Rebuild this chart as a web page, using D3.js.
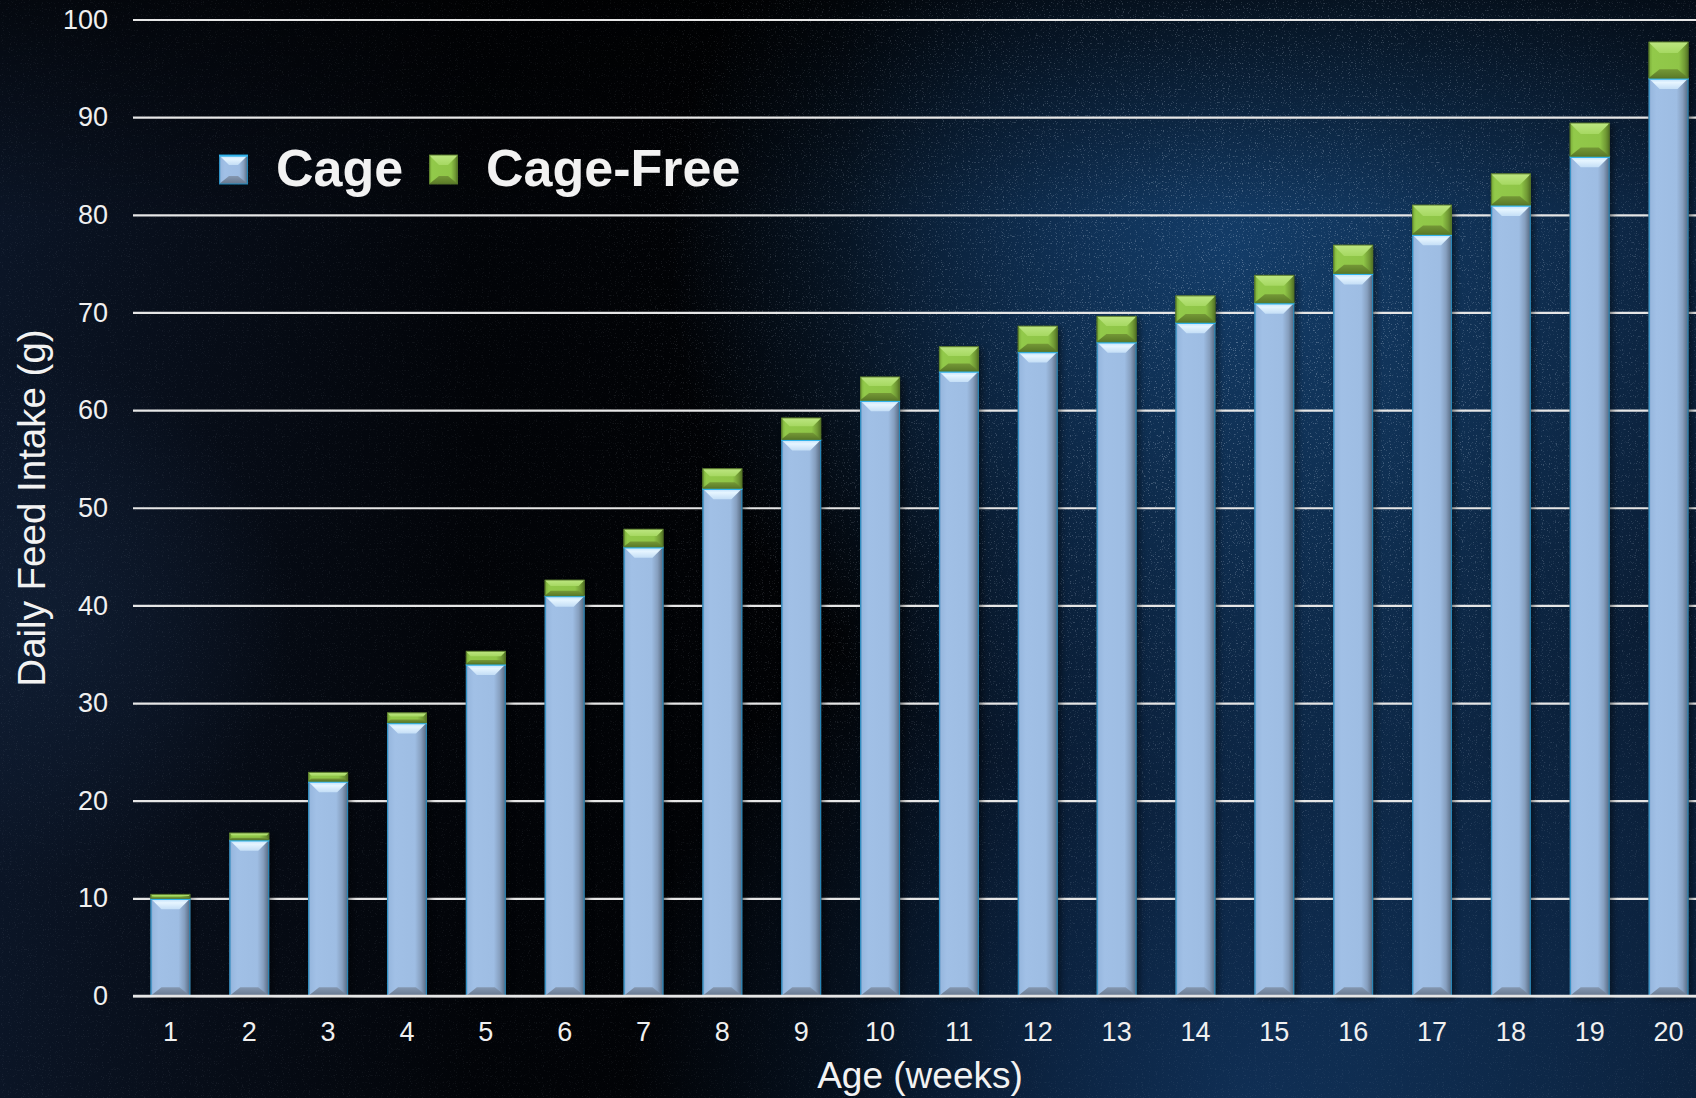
<!DOCTYPE html>
<html>
<head>
<meta charset="utf-8">
<script src="https://cdn.jsdelivr.net/npm/d3@7"></script>
<style>
  html, body { margin: 0; padding: 0; background: #04070d; overflow: hidden; }
  svg { display: block; }
  text { font-family: "Liberation Sans", Arial, sans-serif; fill: #f2f2f2; }
</style>
</head>
<body>
<svg id="chart" width="1696" height="1098"></svg>
<script>
// ---- data ----
const weeks = ["1","2","3","4","5","6","7","8","9","10","11","12","13","14","15","16","17","18","19","20"];
const cage = [10, 16, 22, 28, 34, 41, 46, 52, 57, 61, 64, 66, 67, 69, 71, 74, 78, 81, 86, 94];
const cageFreeExtra = [0.4, 0.7, 0.9, 1.0, 1.3, 1.6, 1.8, 2.0, 2.2, 2.4, 2.5, 2.6, 2.6, 2.7, 2.8, 2.9, 3.0, 3.2, 3.4, 3.7];
const seriesNames = ["Cage", "Cage-Free"];
const yTicks = [0, 10, 20, 30, 40, 50, 60, 70, 80, 90, 100];

const W = 1696, H = 1098;
const svg = d3.select("#chart");
const defs = svg.append("defs");

// ---- background ----
function radial(id, cx, cy, r, color, op) {
  const g = defs.append("radialGradient").attr("id", id).attr("gradientUnits", "userSpaceOnUse")
    .attr("cx", cx).attr("cy", cy).attr("r", r);
  g.append("stop").attr("offset", 0).attr("stop-color", color).attr("stop-opacity", op);
  g.append("stop").attr("offset", 0.55).attr("stop-color", color).attr("stop-opacity", op * 0.5);
  g.append("stop").attr("offset", 1).attr("stop-color", color).attr("stop-opacity", 0);
}
const bgLin = defs.append("linearGradient").attr("id", "bgLin").attr("x1", 0).attr("x2", 1).attr("y1", 0).attr("y2", 0);
[[0, "#0b1526"], [0.12, "#070d18"], [0.28, "#020408"], [0.5, "#010204"], [0.62, "#05101f"], [0.8, "#0a2038"], [1, "#0a1c33"]]
  .forEach(([o, c]) => bgLin.append("stop").attr("offset", o).attr("stop-color", c));
radial("bgRad", 1230, 250, 560, "#154272", 0.85);
radial("bgRad2", 1250, 1098, 620, "#123560", 0.75);
radial("bgRad3", 30, 620, 260, "#13233b", 0.6);
const bgTop = defs.append("linearGradient").attr("id", "bgTop").attr("x1", 0).attr("x2", 0).attr("y1", 0).attr("y2", 1);
bgTop.append("stop").attr("offset", 0).attr("stop-color", "#000").attr("stop-opacity", 0.6);
bgTop.append("stop").attr("offset", 0.2).attr("stop-color", "#000").attr("stop-opacity", 0);

const starF = defs.append("filter").attr("id", "stars").attr("x", 0).attr("y", 0).attr("width", 1).attr("height", 1);
starF.append("feTurbulence").attr("type", "fractalNoise").attr("baseFrequency", 0.85).attr("numOctaves", 1).attr("seed", 7).attr("result", "n");
starF.append("feColorMatrix").attr("in", "n").attr("type", "matrix")
  .attr("values", "0 0 0 0 0.8  0 0 0 0 0.88  0 0 0 0 1  9 0 0 0 -5.5");

const starMask = defs.append("mask").attr("id", "starMask");
starMask.append("rect").attr("width", W).attr("height", H).attr("fill", "#333");
defs.append("radialGradient").attr("id", "maskRad").attr("gradientUnits", "userSpaceOnUse")
  .attr("cx", 1250).attr("cy", 350).attr("r", 700)
  .call(g => { g.append("stop").attr("offset", 0).attr("stop-color", "#fff"); g.append("stop").attr("offset", 1).attr("stop-color", "#fff").attr("stop-opacity", 0); });
starMask.append("rect").attr("width", W).attr("height", H).attr("fill", "url(#maskRad)");

svg.append("rect").attr("width", W).attr("height", H).attr("fill", "url(#bgLin)");
svg.append("rect").attr("width", W).attr("height", H).attr("fill", "url(#bgRad)");
svg.append("rect").attr("width", W).attr("height", H).attr("fill", "url(#bgRad2)");
svg.append("rect").attr("width", W).attr("height", H).attr("fill", "url(#bgRad3)");
svg.append("rect").attr("width", W).attr("height", H).attr("fill", "url(#bgTop)");
svg.append("rect").attr("width", W).attr("height", H).attr("filter", "url(#stars)").attr("opacity", 0.3).attr("mask", "url(#starMask)");

// ---- scales ----
const x = d3.scaleBand().domain(weeks).range([131, 1708]).paddingInner(0.493).paddingOuter(0.2465);
const y = d3.scaleLinear().domain([0, 100]).range([996, 19.5]);

// ---- gridlines + y axis ----
const yAxis = svg.append("g").attr("transform", "translate(133,0)")
  .call(d3.axisLeft(y).tickValues(yTicks).tickSize(-(W - 133 + 20)).tickPadding(25).tickFormat(d3.format("d")));
yAxis.select(".domain").remove();
yAxis.selectAll(".tick line").attr("stroke", "#e6e6e6").attr("stroke-width", 2.2);
yAxis.selectAll(".tick text").attr("font-size", 27).style("fill", "#f0f0f0").attr("fill", null);

// ---- bar gradients ----
function hGrad(id, stops) {
  const g = defs.append("linearGradient").attr("id", id).attr("x1", 0).attr("x2", 1).attr("y1", 0).attr("y2", 0);
  stops.forEach(([o, c]) => g.append("stop").attr("offset", o).attr("stop-color", c));
}
function vGrad(id, stops) {
  const g = defs.append("linearGradient").attr("id", id).attr("x1", 0).attr("x2", 0).attr("y1", 0).attr("y2", 1);
  stops.forEach(([o, c]) => g.append("stop").attr("offset", o).attr("stop-color", c));
}
hGrad("blueBody", [[0, "#6f93be"], [0.06, "#98b8df"], [0.2, "#a1c0e6"], [0.7, "#9ebde3"], [0.85, "#869fbf"], [1, "#53647b"]]);
vGrad("blueTop", [[0, "#b9dcfa"], [0.4, "#e6f5ff"], [1, "#c4def6"]]);
vGrad("blueBot", [[0, "#8598b1"], [1, "#66778e"]]);
hGrad("greenBody", [[0, "#78aa36"], [0.1, "#92c94a"], [0.76, "#8fc547"], [0.9, "#719a35"], [1, "#506f22"]]);
vGrad("greenTop", [[0, "#bde681"], [1, "#a6d862"]]);
vGrad("greenBot", [[0, "#749836"], [1, "#5b7a28"]]);

const shadowF = defs.append("filter").attr("id", "shadow").attr("x", -0.3).attr("y", -0.1).attr("width", 1.6).attr("height", 1.2);
shadowF.append("feDropShadow").attr("dx", 3).attr("dy", 2).attr("stdDeviation", 3).attr("flood-color", "#000").attr("flood-opacity", 0.6);

// ---- stacked data ----
const rows = weeks.map((w, i) => ({ week: w, Cage: cage[i], "Cage-Free": cageFreeExtra[i] }));
const stacked = d3.stack().keys(seriesNames)(rows);

const palette = {
  "Cage": { body: "url(#blueBody)", top: "url(#blueTop)", bot: "url(#blueBot)", edge: "#1e8fc4", topLine: "#33b3ea", maxB: 11 },
  "Cage-Free": { body: "url(#greenBody)", top: "url(#greenTop)", bot: "url(#greenBot)", edge: "#56772a", topLine: null, maxB: 11 }
};

function drawBevel(g, x0, y0, w, h, p) {
  const b = Math.max(0, Math.min(p.maxB, h / 2.6, w / 2));
  g.append("rect").attr("x", x0).attr("y", y0).attr("width", w).attr("height", h).attr("fill", p.body);
  if (b > 0.5) {
    g.append("polygon").attr("points", [[x0, y0], [x0 + w, y0], [x0 + w - b, y0 + b], [x0 + b, y0 + b]].join(" ")).attr("fill", p.top);
    g.append("polygon").attr("points", [[x0 + b, y0 + h - b * 0.8], [x0 + w - b, y0 + h - b * 0.8], [x0 + w, y0 + h], [x0, y0 + h]].join(" ")).attr("fill", p.bot);
  } else {
    g.append("rect").attr("x", x0).attr("y", y0).attr("width", w).attr("height", h * 0.5).attr("fill", p.top);
  }
  g.append("rect").attr("x", x0 + 0.6).attr("y", y0).attr("width", w - 1.2).attr("height", h)
    .attr("fill", "none").attr("stroke", p.edge).attr("stroke-width", 1.2).attr("stroke-opacity", 0.8);
  if (p.topLine) {
    g.append("line").attr("x1", x0).attr("x2", x0 + w).attr("y1", y0 + 0.8).attr("y2", y0 + 0.8)
      .attr("stroke", p.topLine).attr("stroke-width", 1.8);
  }
}

const barsG = svg.append("g");
barsG.append("g").selectAll("rect").data(rows).join("rect")
  .attr("x", d => x(d.week)).attr("width", x.bandwidth())
  .attr("y", (d, i) => y(stacked[1][i][1])).attr("height", (d, i) => y(0) - y(stacked[1][i][1]))
  .attr("fill", "#000").attr("filter", "url(#shadow)").attr("opacity", 0.8);

stacked.forEach(layer => {
  const p = palette[layer.key];
  const lg = barsG.append("g").attr("class", "series-" + layer.key);
  layer.forEach(seg => {
    const x0 = x(seg.data.week);
    const y0 = y(seg[1]);
    const h = y(seg[0]) - y(seg[1]);
    drawBevel(lg.append("g"), x0, y0, x.bandwidth(), h, p);
  });
});

// ---- baseline / x axis ----
svg.append("line").attr("x1", 133).attr("x2", W).attr("y1", y(0)).attr("y2", y(0))
  .attr("stroke", "#e6e6e6").attr("stroke-width", 2.4);
const xAxis = svg.append("g").attr("transform", `translate(0,${y(0)})`)
  .call(d3.axisBottom(x).tickSize(0).tickPadding(26));
xAxis.select(".domain").remove();
xAxis.selectAll(".tick text").attr("font-size", 27).style("fill", "#f0f0f0").attr("fill", null);

// ---- axis titles ----
svg.append("text").attr("x", 920).attr("y", 1088).attr("text-anchor", "middle")
  .attr("font-size", 37).text("Age (weeks)");
svg.append("text").attr("transform", "translate(45,508) rotate(-90)").attr("text-anchor", "middle")
  .attr("font-size", 38.5).text("Daily Feed Intake (g)");

// ---- legend ----
const legend = svg.append("g");
const legItems = [
  { name: seriesNames[0], mx: 219, tx: 276 },
  { name: seriesNames[1], mx: 429, tx: 486 }
];
legItems.forEach(it => {
  const p = palette[it.name];
  const g = legend.append("g");
  const p2 = Object.assign({}, p, { maxB: 10 });
  drawBevel(g, it.mx, 155, 29, 29, p2);
  legend.append("text").attr("x", it.tx).attr("y", 186).attr("font-size", 52).attr("font-weight", "bold")
    .text(it.name);
});
</script>
</body>
</html>
